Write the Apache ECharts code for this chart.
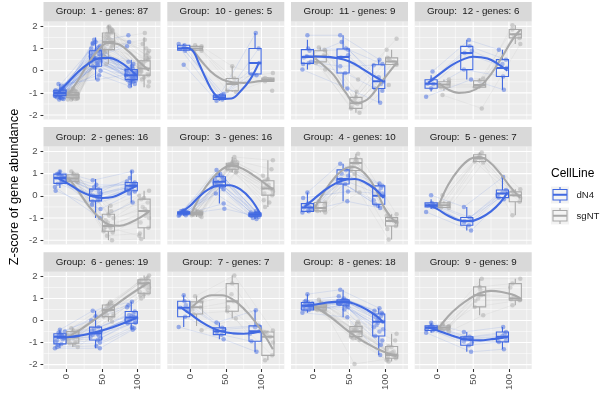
<!DOCTYPE html>
<html><head><meta charset="utf-8">
<script src="https://cdn.jsdelivr.net/npm/echarts@6/dist/echarts.min.js"></script>
<style>html,body{margin:0;padding:0;background:#fff}#c{width:606px;height:393px}</style>
</head><body><div id="c"></div>
<script>
// ---------------- DATA ----------------
const GROUPS = [1, 10, 11, 12, 2, 3, 4, 5, 6, 7, 8, 9];
const GENE_COUNTS = [87, 5, 9, 6, 16, 16, 10, 7, 19, 7, 18, 9];
const TIMES = [0, 50, 100];
const CELL_LINES = ['dN4', 'sgNT'];
const X_TICKS = [0, 50, 100];
const X_MINOR = [-25, 25, 75, 125];
const Y_TICKS = [-2, -1, 0, 1, 2];
const Y_MINOR = [-1.5, -0.5, 0.5, 1.5];
const JITTER = [-5, 3, -2, 6, -7, 1, 5, -3, 7, -6, 2, -1, 4, -4, 6, 0, -6, 3, -2, 5, -7, 1, -4, 7];

// box stats per time: [low whisker, q1, median, q3, high whisker]
const G1_BOX_DN4 = [[-1.3,-1.12,-1.0,-0.88,-0.6],[-0.4,0.2,0.55,0.9,1.5],[-0.75,-0.4,-0.2,0.05,0.5]];
const G1_BOX_SGNT = [[-1.35,-1.2,-1.1,-1.0,-0.8],[0.3,0.95,1.3,1.7,2.05],[-0.75,-0.2,0.1,0.45,1.5]];
const G10_BOX_DN4 = [[0.9,0.92,1.0,1.15,1.2],[-1.35,-1.3,-1.2,-1.1,-1.05],[-0.2,-0.15,0.35,1.0,1.7]];
const G10_BOX_SGNT = [[0.9,0.92,1.0,1.1,1.15],[-0.95,-0.9,-0.6,-0.35,0.2],[-0.5,-0.48,-0.4,-0.33,-0.3]];
const G11_BOX_DN4 = [[0.05,0.33,0.62,0.95,1.4],[-0.8,-0.1,0.62,0.98,1.6],[-1.45,-0.8,-0.48,0.27,0.5]];
const G11_BOX_SGNT = [[0.3,0.4,0.65,0.9,1.05],[-1.9,-1.7,-1.47,-1.2,-0.95],[0.27,0.28,0.42,0.58,0.95]];
const G12_BOX_DN4 = [[-0.94,-0.79,-0.59,-0.41,-0.2],[-0.4,0.05,0.8,1.1,1.4],[-0.86,-0.26,0.12,0.5,0.95]];
const G12_BOX_SGNT = [[-0.9,-0.74,-0.62,-0.5,-0.4],[-0.8,-0.74,-0.64,-0.45,-0.35],[1.2,1.48,1.64,1.86,2.05]];
const G2_BOX_DN4 = [[0.35,0.56,0.8,0.98,1.15],[-1.0,-0.23,0.0,0.3,0.76],[-0.3,0.23,0.45,0.6,1.14]];
const G2_BOX_SGNT = [[0.6,0.65,0.78,0.95,1.1],[-2.0,-1.6,-1.36,-0.83,-0.45],[-1.95,-1.44,-0.68,-0.15,0.23]];
const G3_BOX_DN4 = [[-0.9,-0.82,-0.77,-0.72,-0.62],[-0.35,0.41,0.64,0.86,1.17],[-1.05,-0.92,-0.85,-0.78,-0.68]];
const G3_BOX_SGNT = [[-0.95,-0.85,-0.8,-0.75,-0.65],[1.05,1.2,1.38,1.47,1.75],[-0.5,0.03,0.33,0.68,1.6]];
const G4_BOX_DN4 = [[-0.75,-0.7,-0.53,-0.35,0.15],[-0.25,0.53,0.76,1.17,1.45],[-0.55,-0.38,0.0,0.45,0.56]];
const G4_BOX_SGNT = [[-0.75,-0.68,-0.55,-0.3,-0.25],[0.15,1.14,1.48,1.67,1.9],[-1.97,-1.36,-1.14,-0.98,-0.83]];
const G5_BOX_DN4 = [[-0.6,-0.5,-0.42,-0.32,-0.15],[-1.56,-1.33,-1.14,-0.98,-0.5],[-0.15,-0.08,0.1,0.26,0.85]];
const G5_BOX_SGNT = [[-0.55,-0.53,-0.42,-0.32,-0.25],[1.5,1.55,1.7,1.85,1.95],[-0.88,-0.27,0.03,0.18,0.3]];
const G6_BOX_DN4 = [[-1.26,-1.06,-0.73,-0.6,-0.42],[-1.26,-0.88,-0.58,-0.3,0.45],[-0.42,-0.12,0.14,0.41,0.86]];
const G6_BOX_SGNT = [[-1.2,-1.03,-0.75,-0.5,-0.35],[-0.05,0.18,0.48,0.71,0.86],[1.0,1.24,1.7,1.85,2.05]];
const G7_BOX_DN4 = [[-0.29,0.17,0.58,0.88,1.15],[-0.85,-0.64,-0.48,-0.33,-0.09],[-1.42,-0.94,-0.48,-0.24,0.47]];
const G7_BOX_SGNT = [[-0.25,0.3,0.6,0.85,1.1],[0.09,0.42,0.88,1.68,2.05],[-1.8,-1.58,-0.74,-0.52,-0.45]];
const G8_BOX_DN4 = [[0.36,0.48,0.67,0.82,1.2],[0.15,0.71,0.82,0.94,1.4],[-1.56,-0.7,-0.05,0.3,0.56]];
const G8_BOX_SGNT = [[0.4,0.48,0.6,0.72,0.95],[-0.88,-0.73,-0.5,-0.27,-0.05],[-1.86,-1.71,-1.56,-1.18,-0.6]];
const G9_BOX_DN4 = [[-0.55,-0.45,-0.33,-0.24,-0.1],[-1.42,-1.12,-0.85,-0.74,-0.52],[-1.3,-0.97,-0.74,-0.52,-0.29]];
const G9_BOX_SGNT = [[-0.5,-0.42,-0.33,-0.25,-0.15],[0.24,0.62,1.15,1.53,1.9],[0.7,0.92,1.0,1.68,1.9]];

// smooth (loess) curves: [x, z-score]
const G1_FIT_DN4 = [[-13,-1.05],[0,-0.6],[15,-0.1],[30,0.3],[45,0.55],[60,0.58],[75,0.4],[88,0.1],[98,-0.2]];
const G1_FIT_SGNT = [[2,-1.1],[15,-0.5],[30,0.3],[45,0.95],[58,1.25],[72,1.2],[88,0.85],[102,0.4],[116,0.0]];
const G10_FIT_DN4 = [[-12,1.05],[2,0.95],[12,0.35],[22,-0.35],[33,-1.0],[45,-1.27],[58,-1.25],[70,-0.95],[84,-0.4],[97,0.4]];
const G10_FIT_SGNT = [[3,1.0],[18,0.35],[35,-0.2],[55,-0.5],[75,-0.55],[98,-0.47],[118,-0.4]];
const G11_FIT_DN4 = [[-12,0.65],[10,0.63],[30,0.58],[50,0.42],[70,0.05],[85,-0.25],[98,-0.5]];
const G11_FIT_SGNT = [[2,0.55],[15,0.2],[28,-0.2],[45,-1.0],[58,-1.45],[75,-1.3],[95,-0.5],[117,0.4]];
const G12_FIT_DN4 = [[-13,-0.55],[5,-0.1],[20,0.25],[35,0.5],[50,0.63],[70,0.55],[85,0.3],[98,0.0]];
const G12_FIT_SGNT = [[2,-0.55],[15,-0.85],[30,-1.0],[45,-0.95],[60,-0.7],[75,-0.15],[90,0.6],[105,1.4],[116,1.85]];
const G2_FIT_DN4 = [[-13,0.82],[5,0.5],[20,0.2],[35,0.0],[50,-0.1],[65,-0.05],[80,0.15],[98,0.45]];
const G2_FIT_SGNT = [[3,0.8],[15,0.3],[30,-0.4],[45,-0.95],[60,-1.3],[75,-1.35],[90,-1.2],[105,-0.95],[116,-0.7]];
const G3_FIT_DN4 = [[-13,-0.75],[0,-0.45],[12,-0.05],[25,0.28],[40,0.47],[55,0.48],[70,0.3],[85,-0.15],[98,-0.8]];
const G3_FIT_SGNT = [[2,-0.78],[15,0.05],[30,0.75],[45,1.2],[58,1.36],[75,1.2],[90,0.9],[105,0.55],[116,0.28]];
const G4_FIT_DN4 = [[-13,-0.5],[0,-0.15],[15,0.25],[30,0.55],[45,0.73],[58,0.76],[72,0.6],[86,0.3],[98,-0.1]];
const G4_FIT_SGNT = [[2,-0.5],[15,0.2],[30,0.85],[45,1.25],[55,1.3],[70,1.05],[85,0.4],[100,-0.6],[116,-1.25]];
const G5_FIT_DN4 = [[-13,-0.4],[0,-0.6],[15,-0.9],[30,-1.1],[45,-1.15],[60,-1.0],[75,-0.7],[88,-0.3],[98,0.15]];
const G5_FIT_SGNT = [[2,-0.4],[15,0.5],[30,1.2],[45,1.65],[58,1.75],[72,1.55],[88,1.0],[102,0.4],[116,-0.1]];
const G6_FIT_DN4 = [[-13,-0.78],[5,-0.75],[20,-0.68],[35,-0.58],[50,-0.45],[65,-0.3],[80,-0.12],[98,0.12]];
const G6_FIT_SGNT = [[2,-0.75],[20,-0.4],[40,0.05],[58,0.45],[75,0.85],[95,1.3],[116,1.75]];
const G7_FIT_DN4 = [[-13,0.6],[0,0.3],[15,-0.05],[30,-0.32],[45,-0.5],[60,-0.58],[75,-0.6],[90,-0.55],[98,-0.5]];
const G7_FIT_SGNT = [[2,0.58],[15,0.95],[30,1.15],[45,1.15],[60,0.95],[75,0.55],[90,0.0],[105,-0.7],[116,-1.3]];
const G8_FIT_DN4 = [[-13,0.66],[0,0.72],[15,0.8],[30,0.85],[45,0.85],[60,0.72],[75,0.48],[88,0.2],[98,-0.1]];
const G8_FIT_SGNT = [[2,0.62],[15,0.35],[30,0.0],[45,-0.4],[60,-0.75],[75,-1.05],[90,-1.3],[105,-1.5],[116,-1.62]];
const G9_FIT_DN4 = [[-13,-0.32],[0,-0.45],[15,-0.62],[30,-0.78],[45,-0.88],[60,-0.9],[75,-0.85],[88,-0.8],[98,-0.75]];
const G9_FIT_SGNT = [[2,-0.33],[15,0.2],[30,0.65],[45,1.0],[60,1.25],[75,1.35],[90,1.3],[105,1.18],[116,1.02]];

// individual gene trajectories (z-score at 0, 50, 100)
const G1_GENES_DN4 = [[-1.0,0.6,-0.2],[-1.1,0.9,-0.3],[-0.9,0.3,-0.1],[-1.2,1.2,-0.4],[-0.95,0.5,0.1],[-1.05,0.7,-0.5],[-0.8,0.2,-0.2],[-1.3,1.4,0.3],[-1.15,0.0,-0.6],[-0.85,0.8,-0.3],[-1.0,0.4,0.0],[-1.1,1.1,-0.25],[-0.7,-0.2,-0.7],[-1.25,0.55,1.3],[-0.95,0.95,-0.15],[-1.05,0.35,-0.35],[-0.9,1.3,1.6],[-1.2,0.65,-0.45],[-0.6,-0.4,-0.1],[-1.0,0.75,0.4],[-1.1,0.15,-0.55],[-0.88,1.0,-0.05],[-1.18,0.45,-0.2],[-1.02,0.6,1.1],[-0.98,0.85,-0.28],[-1.22,1.05,-0.12],[-0.92,0.25,-0.42],[-1.08,0.68,0.2],[-1.14,0.92,-0.33],[-0.82,0.42,-0.08],[-1.27,1.25,0.05],[-0.97,0.58,-0.48]];
const G1_GENES_SGNT = [[-1.1,1.3,0.1],[-1.2,1.6,0.4],[-1.0,0.9,-0.2],[-1.3,1.9,0.6],[-1.05,1.1,0.0],[-1.15,1.5,1.2],[-0.9,0.6,-0.5],[-1.25,2.0,0.3],[-1.1,1.2,-0.1],[-1.0,0.3,-0.7],[-1.2,1.7,0.8],[-1.05,1.0,0.2],[-0.8,1.4,1.7],[-1.3,1.8,0.45],[-1.12,1.25,-0.3],[-0.95,0.95,0.15],[-1.22,1.65,1.0],[-1.08,1.35,-0.15],[-0.85,0.7,0.35],[-1.18,1.55,0.05],[-1.0,1.15,1.4],[-1.28,1.85,0.25],[-0.92,0.85,-0.4],[-1.15,1.45,0.55],[-1.06,1.75,0.7],[-1.24,1.95,-0.05],[-0.96,1.05,0.5],[-1.16,1.38,0.9]];
const G10_GENES_DN4 = [[1.0,-1.2,0.35],[1.15,-1.3,1.0],[0.9,-1.1,-0.15],[0.27,-1.35,1.7],[1.2,-1.05,-0.2]];
const G10_GENES_SGNT = [[1.0,-0.6,-0.4],[1.1,0.2,-0.33],[0.92,-0.9,-0.9],[1.15,-0.35,-0.1],[0.9,-0.95,-0.48]];
const G11_GENES_DN4 = [[0.6,0.6,-0.5],[1.0,1.0,0.3],[0.35,-0.1,-0.8],[1.6,1.6,0.5],[0.05,-0.8,-1.45],[0.9,0.95,-0.3],[0.4,0.2,0.25],[0.65,1.3,-0.6],[0.3,0.7,-0.9]];
const G11_GENES_SGNT = [[0.65,-1.5,0.4],[0.9,-1.2,0.55],[0.4,-1.7,0.3],[1.05,-0.4,1.44],[0.05,-1.9,-0.64],[0.6,-1.45,0.45],[0.35,-1.65,0.27],[0.95,-0.95,0.95],[0.7,-1.3,0.58]];
const G12_GENES_DN4 = [[-0.59,0.8,0.12],[-0.4,1.1,0.5],[-0.03,1.38,0.95],[-0.79,0.05,-0.26],[-1.17,-0.4,-0.86],[-0.6,0.9,0.3]];
const G12_GENES_SGNT = [[-0.6,-0.64,1.64],[-0.5,-0.45,1.86],[-0.74,-0.74,1.48],[-1.1,-1.7,1.2],[-0.4,-0.35,2.05],[-0.65,-0.7,1.6]];
const G2_GENES_DN4 = [[0.8,0.0,0.45],[0.9,0.3,0.6],[0.6,-0.2,0.25],[1.1,0.7,1.1],[0.4,-1.0,-0.3],[0.85,0.1,0.5],[0.7,-0.25,0.3],[0.95,0.4,0.55],[0.23,-0.6,0.2],[0.75,0.05,0.4],[1.0,0.25,0.65],[0.55,-0.15,0.35],[0.88,0.15,0.8],[0.65,-0.4,0.1],[0.98,0.5,0.5],[0.8,-0.05,0.45]];
const G2_GENES_SGNT = [[0.8,-1.36,-0.68],[0.9,-0.83,-0.15],[0.7,-1.6,-1.44],[1.1,-0.45,0.23],[0.6,-2.0,-1.95],[0.85,-1.2,-0.5],[0.75,-1.5,-1.0],[0.95,-0.9,0.0],[0.65,-1.8,-1.7],[0.78,-1.3,-0.8],[1.0,-0.7,-0.3],[0.72,-1.45,-1.2],[0.88,-1.1,-0.6],[0.68,-1.65,-0.9],[0.92,-1.0,-0.1],[0.82,-1.4,-1.8]];
const G3_GENES_DN4 = [[-0.77,0.64,-0.85],[-0.7,0.86,-0.8],[-0.82,0.41,-0.9],[-0.65,1.17,-0.7],[-0.9,-0.35,-1.05],[-0.75,0.7,-0.82],[-0.8,0.5,-0.88],[-0.72,0.95,-0.78],[-0.85,-0.58,-0.95],[-0.78,0.6,-0.86],[-0.68,0.8,-0.75],[-0.8,0.3,-0.92],[-0.74,0.75,-0.84],[-0.88,0.1,-1.0],[-0.7,1.0,-0.8],[-0.76,0.55,-0.87]];
const G3_GENES_SGNT = [[-0.8,1.38,0.33],[-0.75,1.47,0.68],[-0.85,1.2,0.03],[-0.65,1.75,1.6],[-0.95,1.05,-0.5],[-0.78,1.4,0.4],[-0.82,1.3,0.2],[-0.72,1.55,0.9],[-0.9,1.15,-0.2],[-0.8,1.35,0.3],[-0.7,1.6,1.2],[-0.84,1.25,0.1],[-0.76,1.42,0.5],[-0.88,1.1,-0.3],[-0.73,1.5,0.75],[-0.79,1.36,0.35]];
const G4_GENES_DN4 = [[-0.53,0.76,0.0],[-0.35,1.17,0.45],[-0.7,0.53,-0.38],[0.15,1.45,0.56],[-0.75,-0.25,-0.55],[-0.5,0.9,0.2],[-0.6,0.6,-0.2],[-0.4,1.0,0.35],[-0.1,0.2,0.1],[-0.65,0.7,-0.45]];
const G4_GENES_SGNT = [[-0.55,1.48,-1.14],[-0.3,1.67,-0.98],[-0.68,1.14,-1.36],[-0.25,1.9,-0.83],[-0.75,0.15,-1.97],[-0.5,1.55,-1.1],[-0.6,1.3,-1.2],[-0.4,1.6,-0.9],[-0.65,1.0,-1.5],[-0.45,1.45,-1.05]];
const G5_GENES_DN4 = [[-0.42,-1.14,0.1],[-0.32,-0.98,0.26],[-0.5,-1.33,-0.08],[0.03,-0.5,0.85],[-0.73,-1.56,-0.15],[-0.4,-1.1,0.15],[-0.45,-1.2,0.05]];
const G5_GENES_SGNT = [[-0.42,1.7,0.03],[-0.32,1.85,0.18],[-0.53,1.55,-0.27],[0.03,1.95,0.3],[-0.55,1.5,-0.88],[-0.4,1.72,0.05],[-0.45,1.65,-0.1]];
const G6_GENES_DN4 = [[-0.73,-0.58,0.14],[-0.6,-0.3,0.41],[-1.06,-0.88,-0.12],[-0.42,0.45,0.86],[-1.26,-1.26,-0.42],[-0.7,-0.5,0.2],[-0.8,-0.65,0.05],[-0.65,-0.4,0.3],[-0.95,-0.8,-0.05],[-0.75,-0.6,0.1],[-0.55,0.0,0.6],[-1.1,-1.0,-0.3],[-0.85,-0.7,0.0],[-0.68,-0.45,0.25],[-1.2,-1.15,-0.35],[-0.78,-0.55,0.16],[-0.5,0.2,0.7],[-0.9,-0.75,-0.1],[-0.72,-0.62,0.12]];
const G6_GENES_SGNT = [[-0.75,0.48,1.7],[-0.5,0.71,1.85],[-1.03,0.18,1.24],[-0.35,0.86,2.05],[-1.2,-0.05,1.0],[-0.7,0.5,1.6],[-0.85,0.35,1.5],[-0.6,0.6,1.8],[-0.95,0.25,1.3],[-0.78,0.45,1.65],[-0.45,0.8,1.95],[-1.1,0.1,1.15],[-0.8,0.4,1.55],[-0.65,0.55,1.75],[-1.0,0.2,1.2],[-0.72,0.5,1.7],[-0.55,0.65,1.9],[-0.9,0.3,1.4],[-0.76,0.47,1.62]];
const G7_GENES_DN4 = [[0.58,-0.48,-0.48],[0.88,-0.33,-0.24],[0.17,-0.64,-0.94],[1.15,-0.09,0.47],[-0.29,-0.85,-1.42],[0.7,-0.4,-0.3],[0.45,-0.55,-0.6]];
const G7_GENES_SGNT = [[0.6,0.88,-0.74],[0.85,1.68,-0.52],[0.3,0.42,-1.58],[1.1,2.05,-0.45],[-0.44,0.09,-1.8],[0.7,1.2,-0.6],[0.5,0.6,-1.0]];
const G8_GENES_DN4 = [[0.67,0.82,-0.05],[0.82,0.94,0.3],[0.48,0.71,-0.7],[1.2,1.4,0.56],[0.36,0.15,-1.56],[0.7,0.85,0.1],[0.6,0.78,-0.3],[0.75,0.9,0.2],[0.55,0.6,-0.9],[0.65,0.8,-0.1],[0.9,1.1,0.45],[0.5,0.7,-0.5],[0.72,0.88,0.0],[0.62,0.75,-0.2],[0.85,1.0,0.35],[0.58,0.5,-1.1],[0.78,0.92,0.15],[0.68,0.83,-0.4]];
const G8_GENES_SGNT = [[0.6,-0.5,-1.56],[0.72,-0.27,-1.18],[0.48,-0.73,-1.71],[0.95,-0.05,-0.6],[0.4,-0.88,-1.86],[0.65,-0.45,-1.5],[0.55,-0.6,-1.6],[0.7,-0.35,-1.3],[0.5,-1.97,-1.75],[0.62,-0.5,-1.55],[0.8,-0.15,-0.9],[0.52,-0.7,-1.65],[0.66,-0.4,-1.45],[0.58,-0.55,-1.58],[0.75,-0.3,-1.2],[0.45,-0.8,-1.8],[0.68,-0.42,-1.4],[0.6,-0.52,-1.62]];
const G9_GENES_DN4 = [[-0.33,-0.85,-0.74],[-0.24,-0.74,-0.52],[-0.45,-1.12,-0.97],[-0.1,-0.52,-0.29],[-0.55,-1.42,-1.3],[-0.3,-0.8,-0.7],[-0.38,-0.95,-0.8],[-0.28,-0.78,-0.6],[-0.4,-1.0,-0.9]];
const G9_GENES_SGNT = [[-0.33,1.15,1.0],[-0.25,1.53,1.68],[-0.42,0.62,0.92],[-0.15,1.9,1.9],[-0.5,0.24,0.7],[-0.3,1.2,1.1],[-0.36,0.9,0.95],[-0.28,1.4,1.5],[-0.4,1.0,0.98]];

// ---------------- TABLE ----------------
const PANELS = [
  [G1_BOX_DN4, G1_BOX_SGNT, G1_FIT_DN4, G1_FIT_SGNT, G1_GENES_DN4, G1_GENES_SGNT],
  [G10_BOX_DN4, G10_BOX_SGNT, G10_FIT_DN4, G10_FIT_SGNT, G10_GENES_DN4, G10_GENES_SGNT],
  [G11_BOX_DN4, G11_BOX_SGNT, G11_FIT_DN4, G11_FIT_SGNT, G11_GENES_DN4, G11_GENES_SGNT],
  [G12_BOX_DN4, G12_BOX_SGNT, G12_FIT_DN4, G12_FIT_SGNT, G12_GENES_DN4, G12_GENES_SGNT],
  [G2_BOX_DN4, G2_BOX_SGNT, G2_FIT_DN4, G2_FIT_SGNT, G2_GENES_DN4, G2_GENES_SGNT],
  [G3_BOX_DN4, G3_BOX_SGNT, G3_FIT_DN4, G3_FIT_SGNT, G3_GENES_DN4, G3_GENES_SGNT],
  [G4_BOX_DN4, G4_BOX_SGNT, G4_FIT_DN4, G4_FIT_SGNT, G4_GENES_DN4, G4_GENES_SGNT],
  [G5_BOX_DN4, G5_BOX_SGNT, G5_FIT_DN4, G5_FIT_SGNT, G5_GENES_DN4, G5_GENES_SGNT],
  [G6_BOX_DN4, G6_BOX_SGNT, G6_FIT_DN4, G6_FIT_SGNT, G6_GENES_DN4, G6_GENES_SGNT],
  [G7_BOX_DN4, G7_BOX_SGNT, G7_FIT_DN4, G7_FIT_SGNT, G7_GENES_DN4, G7_GENES_SGNT],
  [G8_BOX_DN4, G8_BOX_SGNT, G8_FIT_DN4, G8_FIT_SGNT, G8_GENES_DN4, G8_GENES_SGNT],
  [G9_BOX_DN4, G9_BOX_SGNT, G9_FIT_DN4, G9_FIT_SGNT, G9_GENES_DN4, G9_GENES_SGNT]
];

// ---------------- LAYOUT / STYLE ----------------
const FONT = 'Liberation Sans, Arial, Helvetica, sans-serif';
const LEFTS = [43.5, 167.3, 291.0, 414.7];
const TOPS = [21.5, 146.6, 271.7];
const PW = 117, PH = 98, STRIP_H = 19.5;
const X_MIN = -32, X_MAX = 132, Y_MIN = -2.2, Y_MAX = 2.22;
const DODGE = [-9, 9];
const BOX_HALF = 8.5;
const COLORS = ['#4169E1', '#A9A9A9'];

const chart = echarts.init(document.getElementById('c'), null, {renderer: 'canvas'});

function renderGrid(params, api) {
  const cs = params.coordSys;
  const kind = api.value(2), major = api.value(3);
  let shape;
  if (kind === 0) {
    const px = api.coord([api.value(0), 0])[0];
    shape = {x1: px, y1: cs.y, x2: px, y2: cs.y + cs.height};
  } else {
    const py = api.coord([0, api.value(1)])[1];
    shape = {x1: cs.x, y1: py, x2: cs.x + cs.width, y2: py};
  }
  return {type: 'line', shape, style: {stroke: '#FFFFFF', lineWidth: major ? 1.07 : 0.53}};
}
function makeGeneRender(color) {
  return function (params, api) {
    const pts = [];
    for (let k = 0; k < 3; k++) pts.push(api.coord([api.value(2 * k), api.value(2 * k + 1)]));
    return {type: 'polyline', shape: {points: pts}, style: {stroke: color, lineWidth: 0.6, opacity: 0.22, fill: null}};
  };
}
function makeBoxRender(color) {
  return function (params, api) {
    const x = api.value(0);
    const lo = api.value(1), q1 = api.value(2), med = api.value(3), q3 = api.value(4), hi = api.value(5);
    const tl = api.coord([x - BOX_HALF, q3]), br = api.coord([x + BOX_HALF, q1]);
    const m = api.coord([x, med]), pLo = api.coord([x, lo]), pHi = api.coord([x, hi]);
    return {type: 'group', children: [
      {type: 'line', shape: {x1: m[0], y1: pHi[1], x2: m[0], y2: tl[1]}, style: {stroke: color, lineWidth: 1.1}},
      {type: 'line', shape: {x1: m[0], y1: br[1], x2: m[0], y2: pLo[1]}, style: {stroke: color, lineWidth: 1.1}},
      {type: 'rect', shape: {x: tl[0], y: tl[1], width: br[0] - tl[0], height: br[1] - tl[1]}, style: {fill: 'rgba(255,255,255,0.15)', stroke: color, lineWidth: 1.1}},
      {type: 'line', shape: {x1: tl[0], y1: m[1], x2: br[0], y2: m[1]}, style: {stroke: color, lineWidth: 2}}
    ]};
  };
}

const grids = [], xAxes = [], yAxes = [], series = [], graphics = [];
const gridData = [];
X_TICKS.forEach(v => gridData.push([v, 0, 0, 1]));
X_MINOR.forEach(v => gridData.push([v, 0, 0, 0]));
Y_TICKS.forEach(v => gridData.push([0, v, 1, 1]));
Y_MINOR.forEach(v => gridData.push([0, v, 1, 0]));

PANELS.forEach((p, i) => {
  const col = i % 4, row = Math.floor(i / 4);
  grids.push({left: LEFTS[col], top: TOPS[row], width: PW, height: PH, show: true,
    backgroundColor: '#EBEBEB', borderWidth: 0, containLabel: false});
  xAxes.push({gridIndex: i, type: 'value', min: X_MIN, max: X_MAX, position: 'bottom',
    splitLine: {show: false}, axisLine: {show: false, onZero: false},
    axisTick: {show: row === 2, length: 3, lineStyle: {color: '#333333', width: 1.07}, customValues: X_TICKS},
    axisLabel: {show: row === 2, customValues: X_TICKS, rotate: 90, fontSize: 9.6, color: '#4D4D4D', margin: 5, fontFamily: FONT}});
  yAxes.push({gridIndex: i, type: 'value', min: Y_MIN, max: Y_MAX, position: 'left',
    splitLine: {show: false}, axisLine: {show: false, onZero: false},
    axisTick: {show: col === 0, length: 3, lineStyle: {color: '#333333', width: 1.07}, customValues: Y_TICKS},
    axisLabel: {show: col === 0, customValues: Y_TICKS, fontSize: 9.6, color: '#4D4D4D', margin: 6, fontFamily: FONT}});

  series.push({type: 'custom', xAxisIndex: i, yAxisIndex: i, silent: true, z: 1, clip: true,
    renderItem: renderGrid, data: gridData, encode: {x: 0, y: 1}});

  const boxes = [p[0], p[1]], fits = [p[2], p[3]], genes = [p[4], p[5]];
  const order = [1, 0];
  order.forEach(c => {
    const lineData = [];
    genes[c].forEach((g, gi) => {
      const row3 = [];
      TIMES.forEach((t, ti) => {
        const j = JITTER[(gi * 5 + ti * 7 + c * 3) % JITTER.length];
        row3.push(t + DODGE[c] + j, g[ti]);
      });
      lineData.push(row3);
    });
    series.push({type: 'custom', xAxisIndex: i, yAxisIndex: i, silent: true, z: 2, clip: true,
      renderItem: makeGeneRender(COLORS[c]), data: lineData, encode: {x: [0, 2, 4], y: [1, 3, 5]}});
  });
  order.forEach(c => {
    const pts = [];
    genes[c].forEach((g, gi) => {
      TIMES.forEach((t, ti) => {
        const j = JITTER[(gi * 5 + ti * 7 + c * 3) % JITTER.length];
        pts.push([t + DODGE[c] + j, g[ti]]);
      });
    });
    series.push({type: 'scatter', xAxisIndex: i, yAxisIndex: i, silent: true, z: 3, symbolSize: 4.5,
      itemStyle: {color: COLORS[c], opacity: 0.5}, data: pts});
  });
  order.forEach(c => {
    const bd = boxes[c].map((b, ti) => [TIMES[ti] + DODGE[c]].concat(b));
    series.push({type: 'custom', xAxisIndex: i, yAxisIndex: i, silent: true, z: 4, clip: true,
      renderItem: makeBoxRender(COLORS[c]), data: bd, encode: {x: 0, y: [1, 2, 3, 4, 5]}});
  });
  order.forEach(c => {
    series.push({type: 'line', xAxisIndex: i, yAxisIndex: i, silent: true, z: 5, smooth: 0.4,
      showSymbol: false, symbol: 'none', lineStyle: {color: COLORS[c], width: 2.1}, data: fits[c]});
  });

  graphics.push({type: 'rect', shape: {x: LEFTS[col], y: TOPS[row] - STRIP_H, width: PW, height: STRIP_H},
    style: {fill: '#D9D9D9'}, silent: true});
  graphics.push({type: 'text', x: LEFTS[col] + PW / 2, y: TOPS[row] - STRIP_H / 2, silent: true,
    style: {text: 'Group:  ' + GROUPS[i] + ' - genes: ' + GENE_COUNTS[i], font: '9.8px ' + FONT,
      fill: '#1A1A1A', textAlign: 'center', textVerticalAlign: 'middle'}});
});

graphics.push({type: 'text', x: 14, y: 187, rotation: Math.PI / 2, silent: true,
  style: {text: 'Z-score of gene abundance', font: '12.8px ' + FONT, fill: '#000000', textAlign: 'center', textVerticalAlign: 'middle'}});

graphics.push({type: 'text', x: 551, y: 174, silent: true,
  style: {text: 'CellLine', font: '12px ' + FONT, fill: '#000000', textAlign: 'left', textVerticalAlign: 'middle'}});
CELL_LINES.forEach((name, c) => {
  const ky = 186.5 + c * 21;
  const color = COLORS[c];
  graphics.push({type: 'rect', shape: {x: 551, y: ky, width: 18, height: 17}, style: {fill: '#F2F2F2'}, silent: true});
  graphics.push({type: 'line', shape: {x1: 560, y1: ky + 0.5, x2: 560, y2: ky + 3}, style: {stroke: color, lineWidth: 1.1}, silent: true});
  graphics.push({type: 'line', shape: {x1: 560, y1: ky + 13.5, x2: 560, y2: ky + 16.5}, style: {stroke: color, lineWidth: 1.1}, silent: true});
  graphics.push({type: 'rect', shape: {x: 553, y: ky + 3, width: 14, height: 10.5}, style: {fill: 'rgba(255,255,255,0.15)', stroke: color, lineWidth: 1.1}, silent: true});
  graphics.push({type: 'line', shape: {x1: 553, y1: ky + 8.25, x2: 567, y2: ky + 8.25}, style: {stroke: color, lineWidth: 2}, silent: true});
  graphics.push({type: 'text', x: 576.5, y: ky + 8.5, silent: true,
    style: {text: name, font: '9.6px ' + FONT, fill: '#1A1A1A', textAlign: 'left', textVerticalAlign: 'middle'}});
});

chart.setOption({
  animation: false,
  backgroundColor: '#FFFFFF',
  textStyle: {fontFamily: FONT},
  grid: grids, xAxis: xAxes, yAxis: yAxes, series: series, graphic: graphics
});
</script></body></html>
